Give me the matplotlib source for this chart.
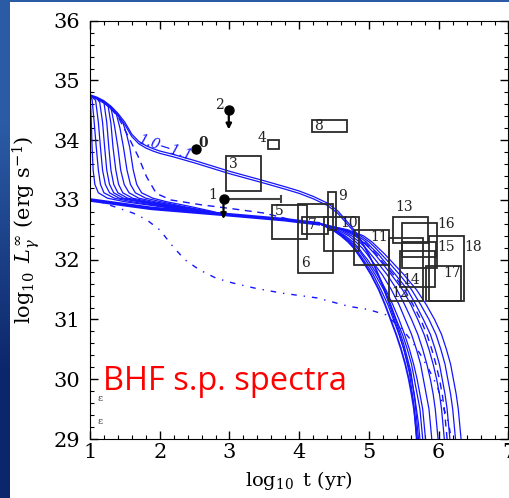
import numpy as np
import matplotlib
matplotlib.use('Agg')
import matplotlib.pyplot as plt
from matplotlib.patches import Rectangle

plt.rcParams['font.family'] = 'DejaVu Serif'
plt.rcParams['mathtext.fontset'] = 'dejavuserif'

# ---- cooling curves ----
# lower band, shared by all curves before they fan out
band_x = [1.0, 1.5, 1.88, 2.5, 2.91, 3.5, 3.79, 4.0, 4.3]
band_y = [33.0, 32.92, 32.86, 32.8, 32.76, 32.7, 32.67, 32.64, 32.6]

# late-time drop: x where each curve crosses tail_y
tail_y = [32.6, 32.5, 32.4, 32.3, 32.2, 32.1, 32.0, 31.75, 31.5, 31.25, 31.0,
          30.75, 30.5, 30.25, 30.0, 29.75, 29.5, 29.25, 29.0]
tail_band = [4.30, 4.48, 4.60, 4.70, 4.78, 4.84, 4.90, 5.03, 5.14, 5.23, 5.31,
             5.39, 5.46, 5.52, 5.57, 5.61, 5.645, 5.67, 5.69]
s_tails = [
    [4.30, 4.49, 4.62, 4.72, 4.80, 4.86, 4.92, 5.06, 5.17, 5.27, 5.35, 5.43, 5.50, 5.56, 5.61, 5.65, 5.68, 5.71, 5.73],
    [4.30, 4.51, 4.64, 4.74, 4.83, 4.89, 4.95, 5.09, 5.21, 5.31, 5.39, 5.48, 5.55, 5.61, 5.65, 5.69, 5.73, 5.75, 5.77],
    [4.30, 4.52, 4.66, 4.77, 4.85, 4.91, 4.98, 5.12, 5.24, 5.34, 5.43, 5.51, 5.58, 5.64, 5.69, 5.73, 5.77, 5.79, 5.81],
    [4.30, 4.55, 4.71, 4.81, 4.90, 4.97, 5.03, 5.19, 5.32, 5.43, 5.52, 5.61, 5.68, 5.74, 5.78, 5.82, 5.86, 5.88, 5.90],
    [4.30, 4.59, 4.75, 4.86, 4.95, 5.02, 5.09, 5.26, 5.40, 5.51, 5.61, 5.70, 5.77, 5.83, 5.88, 5.92, 5.95, 5.97, 5.99],
    [4.30, 4.62, 4.80, 4.91, 5.00, 5.08, 5.15, 5.32, 5.48, 5.60, 5.70, 5.79, 5.86, 5.92, 5.97, 6.01, 6.04, 6.06, 6.08],
    [4.30, 4.65, 4.84, 4.96, 5.04, 5.13, 5.20, 5.38, 5.55, 5.67, 5.78, 5.88, 5.95, 6.01, 6.05, 6.09, 6.12, 6.14, 6.16],
    [4.30, 4.67, 4.88, 5.00, 5.09, 5.17, 5.25, 5.44, 5.61, 5.74, 5.86, 5.96, 6.03, 6.09, 6.13, 6.17, 6.20, 6.22, 6.24],
    [4.30, 4.70, 4.92, 5.04, 5.13, 5.22, 5.30, 5.50, 5.68, 5.82, 5.94, 6.04, 6.11, 6.17, 6.21, 6.25, 6.28, 6.30, 6.32],
]

# early drops of the S-shaped curves
s_x = [
    [1.0, 1.01, 1.02, 1.03, 1.045, 1.07, 1.12, 1.25, 1.5, 2.0, 2.5],
    [1.0, 1.03, 1.06, 1.09, 1.12, 1.15, 1.2, 1.35, 1.6, 2.0, 2.5],
    [1.0, 1.08, 1.12, 1.15, 1.18, 1.22, 1.28, 1.42, 1.7, 2.05, 2.5],
    [1.0, 1.1, 1.14, 1.18, 1.21, 1.24, 1.28, 1.34, 1.48, 1.75, 2.1, 2.5],
    [1.0, 1.1, 1.20, 1.24, 1.27, 1.30, 1.34, 1.40, 1.54, 1.8, 2.15, 2.55],
    [1.0, 1.1, 1.2, 1.26, 1.30, 1.33, 1.37, 1.41, 1.47, 1.61, 1.86, 2.2, 2.6],
    [1.0, 1.1, 1.2, 1.3, 1.35, 1.40, 1.44, 1.49, 1.56, 1.70, 1.93, 2.25, 2.65],
    [1.0, 1.1, 1.2, 1.3, 1.38, 1.43, 1.48, 1.53, 1.58, 1.65, 1.80, 2.02, 2.3, 2.7],
    [1.0, 1.1, 1.2, 1.3, 1.4, 1.47, 1.52, 1.57, 1.62, 1.67, 1.74, 1.90, 2.1, 2.4, 2.75],
]
s_y = [
    [34.72, 34.55, 34.25, 33.88, 33.5, 33.26, 33.12, 33.03, 32.97, 32.89, 32.81],
    [34.74, 34.68, 34.3, 33.88, 33.5, 33.26, 33.12, 33.03, 32.97, 32.9, 32.81],
    [34.75, 34.67, 34.3, 33.88, 33.5, 33.26, 33.12, 33.03, 32.97, 32.9, 32.81],
    [34.75, 34.70, 34.63, 34.3, 33.88, 33.5, 33.26, 33.12, 33.03, 32.97, 32.9, 32.81],
    [34.75, 34.70, 34.63, 34.3, 33.88, 33.5, 33.26, 33.12, 33.03, 32.97, 32.9, 32.81],
    [34.75, 34.70, 34.64, 34.57, 34.28, 33.88, 33.5, 33.26, 33.12, 33.03, 32.97, 32.9, 32.81],
    [34.75, 34.70, 34.64, 34.55, 34.25, 33.88, 33.5, 33.26, 33.12, 33.03, 32.97, 32.9, 32.81],
    [34.75, 34.70, 34.64, 34.55, 34.43, 34.2, 33.88, 33.5, 33.26, 33.12, 33.03, 32.97, 32.9, 32.81],
    [34.75, 34.70, 34.64, 34.55, 34.43, 34.3, 34.12, 33.88, 33.5, 33.26, 33.12, 33.03, 32.97, 32.9, 32.81],
]

# the two upper curves, labelled 1.0-1.1
p1_x = [1.0, 1.1, 1.2, 1.3, 1.4, 1.5, 1.6, 1.7, 1.8, 1.9, 2.0, 2.2, 2.5, 3.0, 3.5, 3.8, 4.0,
        4.2, 4.4, 4.55, 4.7, 4.8, 4.9, 5.0, 5.1, 5.2, 5.3, 5.4, 5.5, 5.58, 5.64, 5.68]
p1_y = [34.76, 34.72, 34.66, 34.57, 34.45, 34.30, 34.10, 33.98, 33.91, 33.86, 33.82, 33.76,
        33.66, 33.48, 33.32, 33.22, 33.15, 33.06, 32.95, 32.82, 32.62, 32.48, 32.30, 32.08,
        31.83, 31.55, 31.22, 30.88, 30.5, 30.1, 29.6, 29.0]
p2_x = [1.0, 1.1, 1.2, 1.3, 1.4, 1.5, 1.6, 1.7, 1.8, 1.9, 2.0, 2.2, 2.5, 3.0, 3.5, 3.8, 4.0,
        4.2, 4.4, 4.55, 4.7, 4.8, 4.9, 5.0, 5.1, 5.2, 5.3, 5.4, 5.5, 5.6, 5.66, 5.71]
p2_y = [34.74, 34.69, 34.62, 34.53, 34.41, 34.26, 34.06, 33.94, 33.87, 33.82, 33.78, 33.72,
        33.62, 33.44, 33.28, 33.18, 33.11, 33.02, 32.91, 32.78, 32.58, 32.45, 32.28, 32.08,
        31.85, 31.58, 31.27, 30.94, 30.58, 30.13, 29.62, 29.0]

# dashed curve
dash_x = [1.0, 1.2, 1.4, 1.55, 1.69, 1.81, 1.95, 2.16, 2.59, 3.06, 3.5, 3.98]
dash_y = [34.75, 34.65, 34.40, 34.06, 33.73, 33.39, 33.11, 33.0, 32.92, 32.85, 32.78, 32.64]
dash_tail = [4.30, 4.63, 4.82, 4.93, 5.02, 5.10, 5.17, 5.35, 5.51, 5.63, 5.74, 5.83,
             5.90, 5.96, 6.01, 6.05, 6.08, 6.10, 6.12]

# dash-dotted curve
dd_x = [1.0, 1.14, 1.62, 1.81, 2.0, 2.19, 2.36, 2.57, 2.81, 3.05, 3.38, 3.76, 4.26, 4.71,
        4.98, 5.24, 5.48, 5.62, 5.74, 5.86, 5.98, 6.07, 6.14, 6.18]
dd_y = [33.0, 32.97, 32.78, 32.67, 32.5, 32.22, 32.0, 31.83, 31.69, 31.61, 31.52, 31.44,
        31.36, 31.22, 31.17, 31.08, 30.83, 30.63, 30.41, 30.16, 29.88, 29.52, 29.27, 29.0]

# ---- observations ----
pt_names = ['0', '1', '2']
pt_x = [2.52, 2.914, 2.99]
pt_y = [33.85, 33.01, 34.51]

box_names = ['3', '4', '8', '5', '6', '7', '9', '10', '11', '12', '13', '14', '15', '16', '17', '18']
box_x0 = [2.95, 3.55, 4.18, 3.61, 3.98, 4.04, 4.41, 4.36, 4.79, 5.28, 5.34, 5.44, 5.48, 5.48, 5.82, 5.86]
box_x1 = [3.45, 3.71, 4.68, 4.11, 4.48, 4.41, 4.52, 4.86, 5.29, 5.78, 5.84, 5.94, 5.96, 5.98, 6.32, 6.36]
box_y0 = [33.15, 33.85, 34.13, 32.34, 31.78, 32.43, 32.50, 32.15, 31.91, 31.31, 32.28, 31.55, 32.04, 31.86, 31.31, 31.31]
box_y1 = [33.73, 34.00, 34.34, 32.92, 32.94, 32.71, 33.14, 32.72, 32.50, 32.36, 32.72, 32.14, 32.30, 32.61, 31.90, 32.40]

# label positions (x, y) for every source number
lab_x = {'0': 2.62, '1': 2.76, '2': 2.86, '3': 3.05, '4': 3.46, '8': 4.28, '5': 3.71, '6': 4.09,
         '7': 4.19, '9': 4.62, '10': 4.72, '11': 5.15, '12': 5.44, '13': 5.5, '14': 5.6,
         '15': 6.11, '16': 6.11, '17': 6.19, '18': 6.49}
lab_y = {'0': 33.95, '1': 33.09, '2': 34.59, '3': 33.6, '4': 34.03, '8': 34.24, '5': 32.81,
         '6': 31.94, '7': 32.58, '9': 33.07, '10': 32.61, '11': 32.38, '12': 31.44, '13': 32.88,
         '14': 31.66, '15': 32.22, '16': 32.6, '17': 31.78, '18': 32.22}

fig = plt.figure(figsize=(5.09, 4.98), dpi=100)

# slide background: blue strip on the left and top
bg = fig.add_axes([0, 0, 1, 1], zorder=-5)
grad = np.array([[0.17, 0.36, 0.65], [0.05, 0.15, 0.42]]).reshape(2, 1, 3)
bg.imshow(grad, aspect='auto', extent=[0, 1, 0, 1], interpolation='bilinear')
bg.add_patch(Rectangle((10 / 509, 0), 1, 496 / 498, transform=bg.transAxes,
                       color='white', lw=0))
bg.set_xlim(0, 1)
bg.set_ylim(0, 1)
bg.axis('off')

ax = fig.add_axes([90 / 509, 1 - 439 / 498, 418.5 / 509, 418.3 / 498])
blue = '#1414ff'

ax.plot(band_x, band_y, color=blue, lw=2.6, solid_capstyle='butt')
ax.plot(tail_band, tail_y, color=blue, lw=1.3)
for i in range(len(s_x)):
    ax.plot(s_x[i] + band_x[4:8] + s_tails[i], s_y[i] + band_y[4:8] + tail_y,
            color=blue, lw=0.9)
ax.plot(p1_x, p1_y, color=blue, lw=0.9)
ax.plot(p2_x, p2_y, color=blue, lw=0.9)
ax.plot(dash_x + dash_tail, dash_y + tail_y, color=blue, lw=1.0, dashes=(5, 4))
ax.plot(dd_x, dd_y, color=blue, lw=1.0, dashes=(4, 5, 1, 5))
ax.text(2.08, 33.88, '1.0−1.1', color=blue, fontsize=10, style='italic',
        rotation=-18, ha='center', va='center')

# boxes
for i in range(len(box_names)):
    ax.add_patch(Rectangle((box_x0[i], box_y0[i]), box_x1[i] - box_x0[i],
                           box_y1[i] - box_y0[i], fill=False, ec='#2a2a2a', lw=1.3, zorder=3))

# points, upper limits and error bar
ax.errorbar([pt_x[1]], [pt_y[1]], xerr=[[0], [0.82]], fmt='none', ecolor='#444444',
            elinewidth=1.5, capsize=3, capthick=1.5, zorder=4)
ax.plot(pt_x, pt_y, 'o', color='black', ms=6.5, zorder=5)
for i in [1, 2]:
    ax.annotate('', xy=(pt_x[i], pt_y[i] - 0.33), xytext=(pt_x[i], pt_y[i]),
                arrowprops=dict(arrowstyle='-|>', color='black', lw=1.6,
                                mutation_scale=8, shrinkA=0, shrinkB=0), zorder=5)

for name in lab_x:
    ax.text(lab_x[name], lab_y[name], name, fontsize=10, color='#222222',
            ha='center', va='center', fontweight='bold' if name == '0' else 'normal', zorder=6)

ax.text(1.14, 29.67, 'ε', fontsize=7, color='#333333', ha='center', va='center')
ax.text(1.14, 29.29, 'ε', fontsize=7, color='#333333', ha='center', va='center')

ax.text(1.19, 29.82, 'BHF s.p. spectra', color='red', fontsize=23.5,
        family='Open Sans', va='baseline', zorder=7)

ax.set_xlim(1, 7)
ax.set_ylim(29, 36)
ax.set_xticks(range(1, 8))
ax.set_yticks(range(29, 37))
ax.set_xticks(np.arange(1, 7.01, 0.2), minor=True)
ax.set_yticks(np.arange(29, 36.01, 0.2), minor=True)
ax.tick_params(which='both', direction='in', top=True, right=True, labelsize=15)
ax.tick_params(which='major', length=6, width=1)
ax.tick_params(which='minor', length=3, width=0.8)
ax.tick_params(axis='x', pad=3)
ax.tick_params(axis='y', pad=7)
ax.set_xlabel(r'$\log_{10}$ t (yr)', fontsize=14)
ax.set_ylabel(r'$\log_{10}\ L_{\gamma}^{\infty}$ (erg s$^{-1}$)', fontsize=15)
ax.xaxis.set_label_coords(0.5, -0.072)
ax.yaxis.set_label_coords(-0.115, 0.5)

fig.savefig('out.png', dpi=100)
